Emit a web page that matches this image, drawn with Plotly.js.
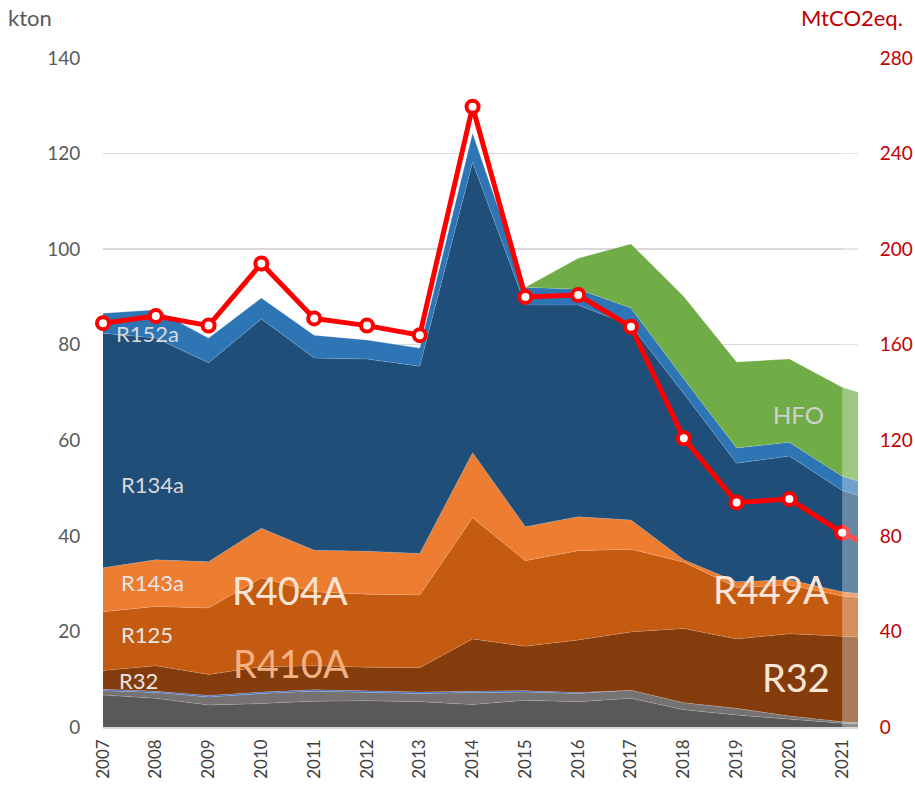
<!DOCTYPE html>
<html>
<head>
<meta charset="utf-8">
<script src="https://cdn.plot.ly/plotly-3.0.1.min.js"></script>
<style>html,body{margin:0;padding:0;background:#fff;}#chart{width:915px;height:791px;}</style>
</head>
<body>
<div id="chart"></div>
<script>
// Years (2022 is only partly visible at the right edge, under the pale overlay)
const years = [2007,2008,2009,2010,2011,2012,2013,2014,2015,2016,2017,2018,2019,2020,2021,2022];
const tickYears = [2007,2008,2009,2010,2011,2012,2013,2014,2015,2016,2017,2018,2019,2020,2021];

// Stacked layers, kton (bottom to top)
const otherDark  = [6.7, 6.0, 4.6, 4.9, 5.4, 5.5, 5.3, 4.7, 5.6, 5.3, 6.0, 3.6, 2.5, 1.7, 0.8, 0.3];
const otherGray  = [0.9, 1.2, 1.7, 2.1, 2.1, 1.7, 1.7, 2.5, 1.7, 1.7, 1.7, 1.5, 1.4, 0.6, 0.3, 0.1];
const otherBlue  = [0.3, 0.3, 0.3, 0.3, 0.3, 0.3, 0.3, 0.3, 0.3, 0.2, 0.0, 0.0, 0.0, 0.0, 0.0, 0.0];
const r32        = [3.9, 5.3, 4.4, 5.3, 5.0, 5.0, 5.1, 10.9, 9.3, 11.0, 12.2, 15.5, 14.5, 17.2, 17.9, 18.0];
const r125       = [12.3, 12.4, 13.9, 18.6, 15.5, 15.3, 15.2, 25.4, 17.9, 18.7, 17.3, 13.9, 10.8, 10.2, 8.4, 8.0];
const r143a      = [9.2, 9.8, 9.7, 10.4, 8.7, 9.0, 8.7, 13.6, 7.1, 7.1, 6.1, 0.5, 1.2, 1.1, 0.9, 0.7];
const r134a      = [49.1, 46.4, 41.6, 43.8, 40.2, 40.2, 39.2, 60.8, 46.4, 44.3, 40.7, 34.8, 24.8, 25.9, 21.2, 19.0];
const r152a      = [4.2, 5.9, 5.2, 4.4, 4.8, 4.0, 3.8, 6.1, 3.7, 3.3, 3.7, 3.1, 3.2, 2.9, 3.0, 3.0];
const hfo        = [0, 0, 0, 0, 0, 0, 0, 0, 0, 6.5, 13.4, 17.2, 18.0, 17.4, 18.6, 18.5];

// Total emissions, MtCO2eq (right axis)
const co2eq      = [169, 172, 168, 194, 171, 168, 164, 259.6, 180, 180.8, 167.5, 120.8, 94, 95.4, 81.3, 71];

const layers = [
  {name: 'Other',     y: otherDark, color: '#595959'},
  {name: 'Other HFC', y: otherGray, color: '#777272'},
  {name: 'Other 2',   y: otherBlue, color: '#4472c4'},
  {name: 'R32',       y: r32,       color: '#843c0c'},
  {name: 'R125',      y: r125,      color: '#c55a11'},
  {name: 'R143a',     y: r143a,     color: '#ed7d31'},
  {name: 'R134a',     y: r134a,     color: '#1f4e79'},
  {name: 'R152a',     y: r152a,     color: '#2e75b6'},
  {name: 'HFO',       y: hfo,       color: '#70ad47'}
];

const traces = layers.map(l => ({
  type: 'scatter', mode: 'lines', x: years, y: l.y, name: l.name,
  stackgroup: 'one', fillcolor: l.color,
  line: {width: 0.6, color: 'rgba(255,255,255,0.25)', shape: 'linear'},
  hoverinfo: 'skip'
}));

traces.push({
  type: 'scatter', mode: 'lines', x: years, y: co2eq, yaxis: 'y2',
  name: 'MtCO2eq', line: {color: '#ff0000', width: 5}, cliponaxis: true, hoverinfo: 'skip'
});
traces.push({
  type: 'scatter', mode: 'markers', x: tickYears, y: co2eq.slice(0, tickYears.length), yaxis: 'y2',
  name: 'MtCO2eq pts', cliponaxis: false,
  marker: {size: 12, color: '#ffffff', line: {color: '#ff0000', width: 4}}, hoverinfo: 'skip'
});

const FONT = 'Lato, "Open Sans", sans-serif';
const xmax = 2021.3;

function lbl(text, x, y, size, color) {
  return {text: text, x: x, y: y, xref: 'x', yref: 'y', showarrow: false,
          font: {family: FONT, size: size, color: color}, xanchor: 'center', yanchor: 'middle'};
}

const layout = {
  width: 915, height: 791,
  margin: {l: 103, r: 57, t: 58, b: 64},
  paper_bgcolor: '#ffffff', plot_bgcolor: '#ffffff',
  showlegend: false,
  font: {family: FONT},
  xaxis: {
    range: [2007, xmax], tickvals: tickYears, ticktext: tickYears.map(String),
    tickangle: -90, tickfont: {family: FONT, size: 17, color: '#404040'},
    showgrid: false, zeroline: false, showline: true, linecolor: '#d9d9d9', linewidth: 1.5,
    ticks: 'outside', ticklen: 4, tickcolor: 'rgba(0,0,0,0)'
  },
  yaxis: {
    range: [0, 140], dtick: 20, tick0: 0,
    tickfont: {family: FONT, size: 19, color: '#595959'},
    gridcolor: '#d9d9d9', gridwidth: 1.5, zeroline: false, showline: false,
    ticks: 'outside', ticklen: 18, tickcolor: 'rgba(0,0,0,0)'
  },
  yaxis2: {
    overlaying: 'y', side: 'right', range: [0, 280], dtick: 40, tick0: 0,
    tickfont: {family: FONT, size: 19, color: '#c00000'},
    showgrid: false, zeroline: false, showline: false,
    ticks: 'outside', ticklen: 17, tickcolor: 'rgba(0,0,0,0)'
  },
  shapes: [{
    type: 'rect', xref: 'x', yref: 'paper', x0: 2021, x1: xmax, y0: 0, y1: 1,
    fillcolor: 'rgba(255,255,255,0.32)', line: {width: 0}, layer: 'above'
  }],
  annotations: [
    {text: 'kton', xref: 'paper', yref: 'paper', x: -103/801, y: 1 + 40/669, xanchor: 'left', yanchor: 'middle',
     showarrow: false, font: {family: FONT, size: 22, color: '#595959'}},
    {text: 'MtCO2eq.', xref: 'paper', yref: 'paper', x: (905-103)/755, y: 1 + 40/669, xanchor: 'right', yanchor: 'middle',
     showarrow: false, font: {family: FONT, size: 22, color: '#c00000'}},
    lbl('R152a', 2007.85, 82.4, 22, '#d9d9d9'),
    lbl('R134a', 2007.93, 50.8, 22, '#d9d9d9'),
    lbl('R143a', 2007.93, 30.3, 22, '#e7e6e6'),
    lbl('R125',  2007.83, 19.3, 22, '#e7e6e6'),
    lbl('R32',   2007.68, 9.8, 22, '#e7e6e6'),
    lbl('R404A', 2010.54, 28.7, 38, '#fbe5d6'),
    lbl('R410A', 2010.56, 13.4, 38, '#f4b183'),
    lbl('R449A', 2019.65, 28.9, 38, '#fbe5d6'),
    lbl('R32',   2020.13, 10.5, 38, '#fbe5d6'),
    lbl('HFO',   2020.18, 65.5, 24, '#d0d0d0')
  ]
};

Plotly.newPlot('chart', traces, layout, {staticPlot: true, displayModeBar: false});
</script>
</body>
</html>
